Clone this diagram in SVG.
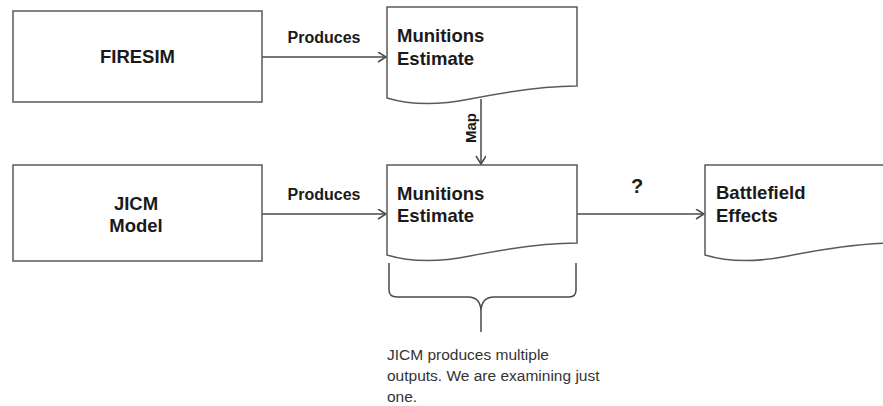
<svg xmlns="http://www.w3.org/2000/svg" width="883" height="406" viewBox="0 0 883 406">
  <style>
    .box { fill: #ffffff; stroke: #5a5a5a; stroke-width: 1.5; }
    .lbl { font-family: "Liberation Sans", Arial, sans-serif; font-weight: bold; fill: #1a1a1a; }
    .big { font-size: 18.5px; }
    .edge { font-size: 16px; }
    .conn { fill: none; stroke: #4a4a4a; stroke-width: 1.5; }
    .note { font-family: "Liberation Sans", Arial, sans-serif; font-size: 15.5px; fill: #333333; }
  </style>
  <defs>
    <marker id="arr" markerWidth="12" markerHeight="12" refX="9" refY="5" orient="auto" markerUnits="userSpaceOnUse">
      <path d="M1,0 L9,5 L1,10" fill="none" stroke="#4a4a4a" stroke-width="1.5"/>
    </marker>
  </defs>
  <rect width="883" height="406" fill="#ffffff"/>

  <g id="connectors">
    <line class="conn" x1="262" y1="57" x2="386" y2="57" marker-end="url(#arr)"/>
    <line class="conn" x1="262" y1="214" x2="386" y2="214" marker-end="url(#arr)"/>
    <line class="conn" x1="577" y1="214" x2="704" y2="214" marker-end="url(#arr)"/>
    <line class="conn" x1="481" y1="99" x2="481" y2="164" marker-end="url(#arr)"/>
    <text class="lbl edge" x="324" y="43" text-anchor="middle">Produces</text>
    <text class="lbl edge" x="324" y="200" text-anchor="middle">Produces</text>
    <text class="lbl" x="637" y="193" font-size="20" text-anchor="middle">?</text>
    <text class="lbl" font-size="15" text-anchor="middle" transform="translate(476,128) rotate(-90)">Map</text>
  </g>

  <g id="firesim">
    <rect class="box" x="13" y="11" width="249" height="91"/>
    <text class="lbl big" x="137.5" y="63" text-anchor="middle">FIRESIM</text>
  </g>

  <g id="jicm">
    <rect class="box" x="13" y="165" width="249" height="96"/>
    <text class="lbl big" x="136" y="210" text-anchor="middle">JICM</text>
    <text class="lbl big" x="136" y="232" text-anchor="middle">Model</text>
  </g>

  <g id="munitions1">
    <path class="box" transform="translate(387,7)" d="M0,0 H190 V79 C158,79 123,84 83,92 C53,98 23,98 0,91 Z"/>
    <text class="lbl big" x="397" y="42">Munitions</text>
    <text class="lbl big" x="397" y="65">Estimate</text>
  </g>

  <g id="munitions2">
    <path class="box" transform="translate(387,165)" d="M0,0 H190 V78 C158,78 123,83 83,91 C53,97 23,97 0,90 Z"/>
    <text class="lbl big" x="397" y="200">Munitions</text>
    <text class="lbl big" x="397" y="222">Estimate</text>
  </g>

  <g id="battlefield">
    <path class="box" transform="translate(705,165)" d="M0,0 H190 V78 C158,78 123,83 83,91 C53,97 23,97 0,90 Z"/>
    <text class="lbl big" x="716" y="199">Battlefield</text>
    <text class="lbl big" x="716" y="222">Effects</text>
  </g>

  <g id="brace">
    <path class="conn" d="M389,263 L389,290 Q389,297 397,297 L468,297 Q481,297 481,312 L481,332 M481,312 Q481,297 494,297 L569,297 Q576,297 576,290 L576,263"/>
  </g>

  <g id="note">
    <text class="note" x="387" y="360">JICM produces multiple</text>
    <text class="note" x="387" y="381">outputs. We are examining just</text>
    <text class="note" x="387" y="402">one.</text>
  </g>
</svg>
